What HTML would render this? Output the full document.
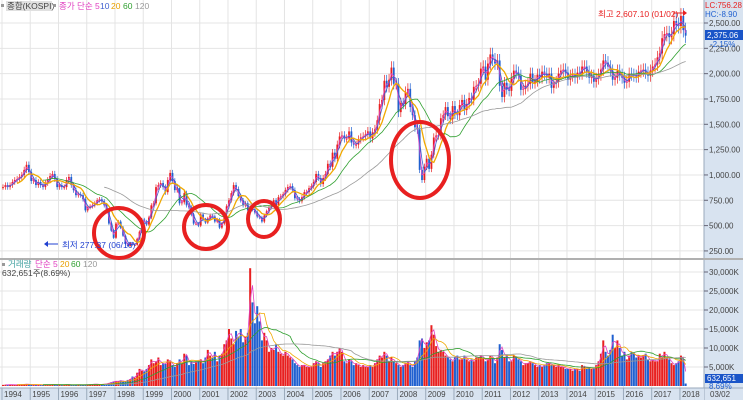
<!DOCTYPE html>
<html><head><meta charset="utf-8">
<style>
body{margin:0;background:#fff;}
svg{display:block;font-family:"Liberation Sans","Noto Sans CJK KR",sans-serif;}
</style></head>
<body>
<svg id="chart" width="743" height="400" viewBox="0 0 743 400" xmlns="http://www.w3.org/2000/svg">
<rect x="0" y="0" width="743" height="400" fill="#fff"/>
<g id="grid"></g>
<g id="volume"></g>
<g id="price"></g>
<rect x="704" y="0" width="39" height="400" fill="#d8e3f0"/>
<line x1="704" y1="0" x2="704" y2="400" stroke="#9aaabb"/>
<rect x="0" y="388" width="704" height="12" fill="#d8e3f0"/>
<line x1="0" y1="388" x2="743" y2="388" stroke="#9aaabb"/>
<line x1="0" y1="259" x2="743" y2="259" stroke="#b0b0b0" stroke-width="2"/>
<g id="axes"></g>
<g font-size="8.5">
<rect x="1" y="4" width="3" height="3" fill="#999"/>
<rect x="6" y="1" width="46" height="10" fill="#e0e0e0"/>
<text x="7" y="9" fill="#444">종합(KOSPI)</text>
<rect x="53" y="4" width="3" height="3" fill="#999"/>
<text x="59" y="9" fill="#e040c0">종가 단순 5</text>
<text x="100" y="9" fill="#4060d0">10</text>
<text x="111" y="9" fill="#e8a000">20</text>
<text x="123" y="9" fill="#30a030">60</text>
<text x="135" y="9" fill="#999">120</text>
</g>
<g font-size="8.5">
<rect x="2" y="263" width="3" height="3" fill="#999"/>
<text x="8" y="267" fill="#40a0a0">거래량</text>
<text x="35" y="267" fill="#e040c0">단순 5</text>
<text x="60" y="267" fill="#e8a000">20</text>
<text x="71" y="267" fill="#30a030">60</text>
<text x="83" y="267" fill="#999">120</text>
<text x="2" y="276" fill="#444">632,651주(8.69%)</text>
</g>
<g>
<ellipse cx="119" cy="233" rx="25" ry="25" fill="none" stroke="#e82020" stroke-width="4"/>
<ellipse cx="206" cy="227" rx="22" ry="22" fill="none" stroke="#e82020" stroke-width="4"/>
<ellipse cx="264" cy="219" rx="16" ry="18" fill="none" stroke="#e82020" stroke-width="4"/>
<ellipse cx="420" cy="160" rx="29" ry="38" fill="none" stroke="#e82020" stroke-width="4"/>
<text x="598" y="17" font-size="8.5" fill="#e82020">최고 2,607.10 (01/02)</text>
<line x1="673" y1="13" x2="683" y2="13" stroke="#e82020"/>
<path d="M683,10 L687,13 L683,16Z" fill="#e82020"/>
<text x="62" y="248" font-size="8.5" fill="#2040d0">최저 277.37 (06/16)</text>
<line x1="48" y1="244" x2="58" y2="244" stroke="#2040d0"/>
<path d="M48,241 L44,244 L48,247Z" fill="#2040d0"/>
</g>
<g font-size="8">
<text x="705" y="8" fill="#e82020">LC:756.28</text>
<text x="705" y="17" fill="#2060d0">HC:-8.90</text>
<rect x="705" y="30" width="38" height="10" fill="#1a55c8"/>
<text x="707" y="38" fill="#fff">2,375.06</text>
<text x="710" y="47" fill="#2060d0">-2.15%</text>
<rect x="705" y="374" width="38" height="9" fill="#1a55c8"/>
<text x="707" y="381" fill="#fff">632,651</text>
<text x="709" y="389" fill="#2060d0" font-size="8">8.69%</text>
<text x="710" y="397" fill="#444">03/02</text>
</g>
</svg>
<script>
const years = ["1994","1995","1996","1997","1998","1999","2000","2001","2002","2003","2004","2005","2006","2007","2008","2009","2010","2011","2012","2013","2014","2015","2016","2017","2018"];
const priceTicks = [250,500,750,1000,1250,1500,1750,2000,2250,2500];
const volumeTicks = [5000,10000,15000,20000,25000,30000];
const closes = [
880,900,880,900,930,950,960,980,1000,1050,1100,1030,
940,950,900,930,900,880,920,950,990,1010,960,880,
900,880,880,950,980,900,850,800,810,800,760,650,
680,690,700,720,750,760,740,700,650,520,450,380,
520,540,480,400,320,300,330,310,310,370,440,560,
540,510,580,700,720,880,900,920,880,830,950,1020,
940,850,870,720,730,820,700,680,610,520,520,500,
610,560,530,570,600,590,540,560,480,520,620,690,
750,820,900,860,790,750,700,720,650,680,660,630,
590,580,540,600,640,680,700,750,700,780,790,810,
850,880,890,850,770,760,740,780,830,830,870,890,
930,1010,970,910,970,1010,1110,1080,1220,1160,1300,1380,
1390,1360,1360,1430,1320,1300,1300,1350,1370,1380,1400,1430,
1360,1420,1450,1540,1700,1740,1930,1870,1940,2060,1900,1900,
1620,1710,1700,1820,1850,1670,1590,1470,1450,1050,950,1080,
1160,1060,1200,1370,1390,1390,1560,1590,1670,1580,1550,1680,
1600,1590,1690,1740,1640,1700,1760,1740,1870,1880,1900,2050,
2070,1940,2100,2190,2140,2100,2130,1880,1770,1910,1850,1830,
1950,2030,2010,1980,1840,1850,1880,1900,2000,1910,1930,1990,
1960,2020,2000,1960,2000,1860,1910,1920,2000,2030,2040,2010,
1940,1980,1990,1960,2010,2000,2070,2070,2020,1960,1980,1920,
1950,1990,2040,2130,2110,2070,2030,1940,1960,2030,1990,1960,
1910,1920,2000,1990,1980,1970,2020,2030,2040,2010,1980,2030,
2070,2090,2160,2200,2350,2390,2400,2360,2390,2520,2480,2470,
2570,2430,2375];
const volumes = [
300,350,300,400,350,300,350,400,380,450,500,400,
350,300,300,350,300,300,350,300,350,400,350,300,
300,300,300,400,350,300,300,300,350,300,300,350,
350,400,450,500,450,400,450,500,600,800,1000,1200,
1300,1200,1500,1200,1200,1600,1800,2500,2200,3500,4500,4000,
3800,4500,5500,7000,6000,6500,7500,5500,6000,5800,7000,6500,
5500,5000,6000,7000,6000,8500,8000,5500,6500,5800,6500,6500,
7000,6000,7500,9500,8000,7500,9000,6500,8000,8500,11000,12000,
15000,12500,11000,14500,13000,15000,11500,13000,14000,31000,22000,16500,
21000,17000,12000,14000,12000,9000,10000,9500,11000,9000,8500,8000,
9000,8000,7500,7000,6000,5500,5000,5500,5500,5000,5000,5000,
6000,6500,6000,5000,6000,6500,7000,8000,9000,8000,9000,10000,
9000,6500,6000,7000,6500,5500,6000,5500,5000,5500,5000,5000,
5500,5000,6000,7000,8000,7500,9000,8000,6500,7500,6500,6000,
5500,5000,5500,6000,6500,5500,5000,6500,7500,12000,12500,10000,
11500,12000,16000,13500,10500,9000,9500,9000,8000,7500,7000,6500,
7500,8000,7000,7000,8000,7000,6500,7000,6500,7500,7500,8000,
7500,6500,7000,8000,7500,6000,7500,11000,9500,7500,8000,6500,
6500,8000,7500,7000,6500,5500,6000,6000,6500,6000,5500,5000,
5500,5000,5500,6000,6000,5500,5500,5000,5500,5000,5000,4500,
4500,4500,4000,4500,4500,4000,5500,5000,4500,5000,4500,4500,
5500,6500,8500,12000,9000,8000,9500,13500,10000,12000,10000,8000,
9000,7000,8000,9000,8500,7500,8000,7500,8000,8500,7000,6500,
7000,6500,6500,8500,7500,9000,7500,7000,6000,5500,6000,6500,
8000,7000,650];
const maPeriods = [2,3,7,18,44];
const maColors = ["#e040c0","#4060d0","#f0a800","#30a030","#999999"];

const NS="http://www.w3.org/2000/svg";
const gGrid=document.getElementById('grid');
const gVol=document.getElementById('volume');
const gPrice=document.getElementById('price');
const gAxes=document.getElementById('axes');
function mk(tag,attrs,parent){const e=document.createElementNS(NS,tag);for(const k in attrs)e.setAttribute(k,attrs[k]);parent.appendChild(e);return e;}
const x0=3, dx=2.354;
function xMonth(i){return x0+i*dx;}
function yPrice(v){return 23+(2500-v)*0.1013;}
function yVol(v){return 386-v*0.0038;}

years.forEach((y,i)=>{
  const x=xMonth(i*12)-1;
  const l=mk('line',{x1:x,y1:0,x2:x,y2:400,stroke:'#e4e4e4'},gGrid);
  
  
  const t=mk('text',{x:x+2,y:397,'font-size':'8',fill:'#444'},gAxes);
  t.textContent=y;
  
  
  const tk=mk('line',{x1:x,y1:388,x2:x,y2:400,stroke:'#9aaabb'},gAxes);
  
  
});
priceTicks.forEach(v=>{
  const y=yPrice(v);
  const l=mk('line',{x1:0,y1:y,x2:704,y2:y,stroke:'#e4e4e4'},gGrid);
  
  
  const tk=mk('line',{x1:704,y1:y,x2:708,y2:y,stroke:'#667'},gAxes);
  
  
  const t=mk('text',{x:709,y:y+3,'font-size':'8',fill:'#444'},gAxes);
  t.textContent=v.toLocaleString('en-US',{minimumFractionDigits:2});
  
  
});
volumeTicks.forEach(v=>{
  const y=yVol(v);
  const l=mk('line',{x1:0,y1:y,x2:704,y2:y,stroke:'#e4e4e4'},gGrid);
  
  
  const tk=mk('line',{x1:704,y1:y,x2:708,y2:y,stroke:'#667'},gAxes);
  
  
  const t=mk('text',{x:709,y:y+3,'font-size':'8',fill:'#444'},gAxes);
  t.textContent=v.toLocaleString('en-US')+'K';
  
  
});

closes.forEach((c,i)=>{
  const o=i>0?closes[i-1]:c;
  const up=c>=o;
  const col=up?'#e82020':'#2060d0';
  const hi=Math.max(o,c)*1.03, lo=Math.min(o,c)*0.97;
  const x=xMonth(i);
  const w=mk('line',{x1:x,y1:yPrice(hi),x2:x,y2:yPrice(lo),stroke:col,'stroke-width':'0.7'},gPrice);
  
  
  const top=yPrice(Math.max(o,c)), bot=yPrice(Math.min(o,c));
  const r=mk('rect',{x:x-0.9,y:top,width:1.8,height:Math.max(1,bot-top),fill:col},gPrice);
  
  
});
function ma(arr,p){return arr.map((_,i)=>{if(i<p-1)return null;let s=0;for(let k=i-p+1;k<=i;k++)s+=arr[k];return s/p;});}
maPeriods.forEach((p,j)=>{
  const m=ma(closes,p);let d='';
  m.forEach((v,i)=>{if(v==null)return;d+=(d?'L':'M')+xMonth(i).toFixed(1)+','+yPrice(v).toFixed(1);});
  const pa=mk('path',{d:d,fill:'none',stroke:maColors[j],'stroke-width':j==2?'1.3':'0.8'},gPrice);
  
  
});
volumes.forEach((v,i)=>{
  const o=i>0?closes[i-1]:closes[i];
  const col=closes[i]>=o?'#e82020':'#2060d0';
  const x=xMonth(i);
  const r=mk('rect',{x:x-1,y:yVol(v),width:2,height:386-yVol(v),fill:col},gVol);
  
  
});
[[2,'#e040c0'],[7,'#f0a800'],[18,'#30a030'],[44,'#999999']].forEach(([p,c])=>{
  const m=ma(volumes,p);let d='';
  m.forEach((v,i)=>{if(v==null)return;d+=(d?'L':'M')+xMonth(i).toFixed(1)+','+yVol(v).toFixed(1);});
  const pa=mk('path',{d:d,fill:'none',stroke:c,'stroke-width':'0.8'},gVol);
  
  
});
</script>
</body></html>
